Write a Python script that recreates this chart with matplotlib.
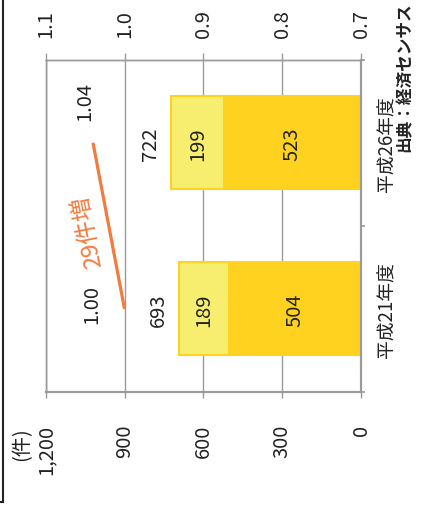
import matplotlib.pyplot as plt
from matplotlib.lines import Line2D

plt.rcParams['font.family'] = ['Noto Sans CJK JP', 'DejaVu Sans']

# data
categories = ['平成21年度', '平成26年度']
base_counts = [504, 523]
upper_counts = [189, 199]
totals = [693, 722]
ratio = [1.00, 1.04]
ratio_text = ['1.00', '1.04']
count_ticks = [0, 300, 600, 900, 1200]
count_labels = ['0', '300', '600', '900', '1,200']
ratio_ticks = [0.7, 0.8, 0.9, 1.0, 1.1]
ratio_labels = ['0.7', '0.8', '0.9', '1.0', '1.1']

dark = '#FFD21F'
light = '#F7EE70'
orange = '#F47B3E'
gray = '#9a9a9a'
fs = 14.5

fig = plt.figure(figsize=(4.22, 5.06), dpi=100)
ax = fig.add_axes([45.7 / 422, 113 / 506, 315.3 / 422, 332.3 / 506])
pos = list(range(len(categories)))

# stacked bars (chart is drawn turned on its side)
ax.barh(pos, base_counts, height=0.56, color=dark, edgecolor=dark, linewidth=1.5, zorder=3)
ax.barh(pos, upper_counts, left=base_counts, height=0.56, color=light, edgecolor=dark,
        linewidth=1.5, zorder=3)

for i in pos:
    ax.text(base_counts[i] / 2, i, str(base_counts[i]), rotation=90, ha='center', va='center',
            fontsize=fs, color='#222222', zorder=4)
    ax.text(base_counts[i] + upper_counts[i] / 2, i, str(upper_counts[i]), rotation=90,
            ha='center', va='center', fontsize=fs, color='#222222', zorder=4)
    ax.annotate(str(totals[i]), (totals[i], i), xytext=(-21, 0), textcoords='offset pixels',
                rotation=90, ha='center', va='center', fontsize=fs, color='#222222')

ax.set_xlim(1200, 0)
ax.set_ylim(-0.5, 1.5)
ax.set_xticks(count_ticks)
ax.set_xticklabels(count_labels, rotation=90)
ax.tick_params(axis='x', direction='out', length=4.5, width=1, color=gray, pad=18.5,
               labelsize=fs, labelcolor='#222222')
ax.grid(axis='x', color=gray, linewidth=1)
ax.set_axisbelow(True)

ax.yaxis.tick_right()
ax.set_yticks(pos)
ax.set_yticklabels(categories, rotation=90)
for lbl in ax.get_yticklabels():
    lbl.set_va('center')
ax.set_yticks([-0.5, 0.5, 1.5], minor=True)
ax.tick_params(axis='y', which='major', length=0, pad=11, labelsize=13.5, labelcolor='#222222')
ax.tick_params(axis='y', which='minor', length=3, width=1.2, color=gray)

# ratio axis
ax2 = ax.twiny()
ax2.set_xlim(1.1, 0.7)
ax2.set_xticks(ratio_ticks)
ax2.set_xticklabels(ratio_labels, rotation=90)
ax2.tick_params(axis='x', direction='out', length=5, width=1, color=gray, pad=11,
                labelsize=fs, labelcolor='#222222')

for a in (ax, ax2):
    for side, sp in a.spines.items():
        sp.set_color(gray)
        sp.set_linewidth(1.5 if side in ('bottom', 'right') else 1.0)

ax2.plot(ratio, pos, color=orange, linewidth=2.3, solid_capstyle='butt')
ax2.annotate(ratio_text[0], (ratio[0], 0), xytext=(-33, 5), textcoords='offset pixels',
             rotation=90, ha='center', va='center', fontsize=fs, color='#222222')
ax2.annotate(ratio_text[1], (ratio[1], 1), xytext=(-8, 42), textcoords='offset pixels',
             rotation=90, ha='center', va='center', fontsize=fs, color='#222222')
mid = 0.469
ax2.annotate('29件増', (ratio[0] + (ratio[1] - ratio[0]) * mid, mid), xytext=(-22, 0),
             textcoords='offset pixels', rotation=101.5, rotation_mode='anchor',
             ha='center', va='center', fontsize=17, color=orange)

fig.text(22 / 422, 1 - 427 / 506, '(件)', rotation=90, ha='center', va='top', fontsize=fs,
         color='#222222')
fig.text(405 / 422, 1 - 2 / 506, '出典：経済センサス', rotation=90, ha='center', va='top',
         fontsize=12, weight='bold', color='#222222')

# frame corner
fig.add_artist(Line2D([3 / 422, 3 / 422], [1, 3 / 506], transform=fig.transFigure,
                      color='#222222', linewidth=1.5))
fig.add_artist(Line2D([0, 3 / 422], [3 / 506, 3 / 506], transform=fig.transFigure,
                      color='#222222', linewidth=1.5))

fig.savefig('out.png', dpi=100)
